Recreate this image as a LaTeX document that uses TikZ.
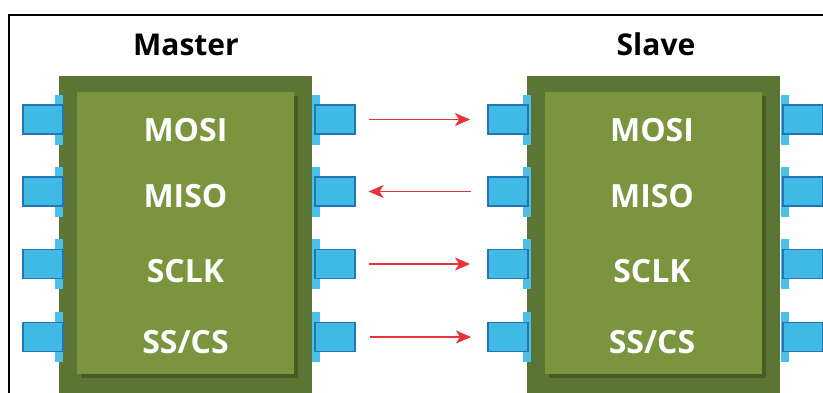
\documentclass[tikz,border=0pt]{standalone}
\usepackage{fontspec}
\setmainfont{Open Sans}
\usetikzlibrary{arrows.meta}
\definecolor{chipdark}{HTML}{5B7534}
\definecolor{chiplight}{HTML}{7B943E}
\definecolor{chipshadow}{HTML}{465C27}
\definecolor{pinfill}{HTML}{40B9E4}
\definecolor{pinedge}{HTML}{2276B5}
\definecolor{pintab}{HTML}{4CC0EA}
\definecolor{arrowred}{HTML}{E8333D}
\tikzset{
  chipouter/.style={rectangle, fill=chipdark, inner sep=0pt, minimum width=253pt, minimum height=330pt, anchor=north west},
  chipshade/.style={rectangle, fill=chipshadow, inner sep=0pt, minimum width=217pt, minimum height=282pt, anchor=north west},
  chipinner/.style={rectangle, fill=chiplight, inner sep=0pt, minimum width=217pt, minimum height=282pt, anchor=north west},
  pinbox/.style={rectangle, fill=pinfill, draw=pinedge, line width=1.6pt, inner sep=0pt, minimum width=40pt, minimum height=29pt, anchor=west},
  pintabbox/.style={rectangle, fill=pintab, inner sep=0pt, minimum width=8pt, minimum height=50pt},
  pinlabel/.style={text=white, font=\fontsize{32}{32}\selectfont\bfseries, anchor=base},
  title/.style={text=black, font=\fontsize{30}{30}\selectfont\bfseries, anchor=base},
  sig/.style={draw=arrowred, line width=1.6pt, -{Stealth[length=15pt,width=13pt,inset=4pt]}},
}
\begin{document}
\begin{tikzpicture}[x=1pt,y=-1pt]
\useasboundingbox (0,0) rectangle (823,392);
\clip (0,0) rectangle (823,392);
% frame
\draw[line width=2pt, black] (9,420) -- (9,15) -- (840,15);
% titles
\node[title] (tm) at (186,55) {Master};
\node[title] (ts) at (656,55) {Slave};
% chips
\node[chipouter] (mo) at (59,76) {};
\node[chipshade] (msh) at (81,96) {};
\node[chipinner] (mi) at (77,92) {};
\node[chipouter] (so) at (527,76) {};
\node[chipshade] (ssh) at (549,96) {};
\node[chipinner] (si) at (545,92) {};
% pins
\foreach \i/\y in {1/119.5,2/191.5,3/264,4/337}{
  % tabs
  \node[pintabbox] (mLt\i) at (59,\y) {};
  \node[pintabbox] (mRt\i) at (316,\y) {};
  \node[pintabbox] (sLt\i) at (527,\y) {};
  \node[pintabbox] (sRt\i) at (785,\y) {};
  % pins
  \node[pinbox] (mL\i) at (22,\y) {};
  \node[pinbox] (mR\i) at (314,\y) {};
  \node[pinbox] (sL\i) at (487,\y) {};
  \node[pinbox] (sR\i) at (782,\y) {};
}
% labels
\node[pinlabel] (m1) at (185.5,141) {MOSI};
\node[pinlabel] (m2) at (185.5,207) {MISO};
\node[pinlabel] (m3) at (185.5,282) {SCLK};
\node[pinlabel] (m4) at (185.5,353) {SS/CS};
\node[pinlabel] (s1) at (652,141) {MOSI};
\node[pinlabel] (s2) at (652,207) {MISO};
\node[pinlabel] (s3) at (652,282) {SCLK};
\node[pinlabel] (s4) at (652,353) {SS/CS};
% arrows
\draw[sig] ([xshift=13pt]mR1.east) -- ([xshift=-17pt]sL1.west);
\draw[sig] ([xshift=-16pt]sL2.west) -- ([xshift=13pt]mR2.east);
\draw[sig] ([xshift=13pt]mR3.east) -- ([xshift=-17pt]sL3.west);
\draw[sig] ([xshift=14pt]mR4.east) -- ([xshift=-16pt]sL4.west);
\end{tikzpicture}
\end{document}
